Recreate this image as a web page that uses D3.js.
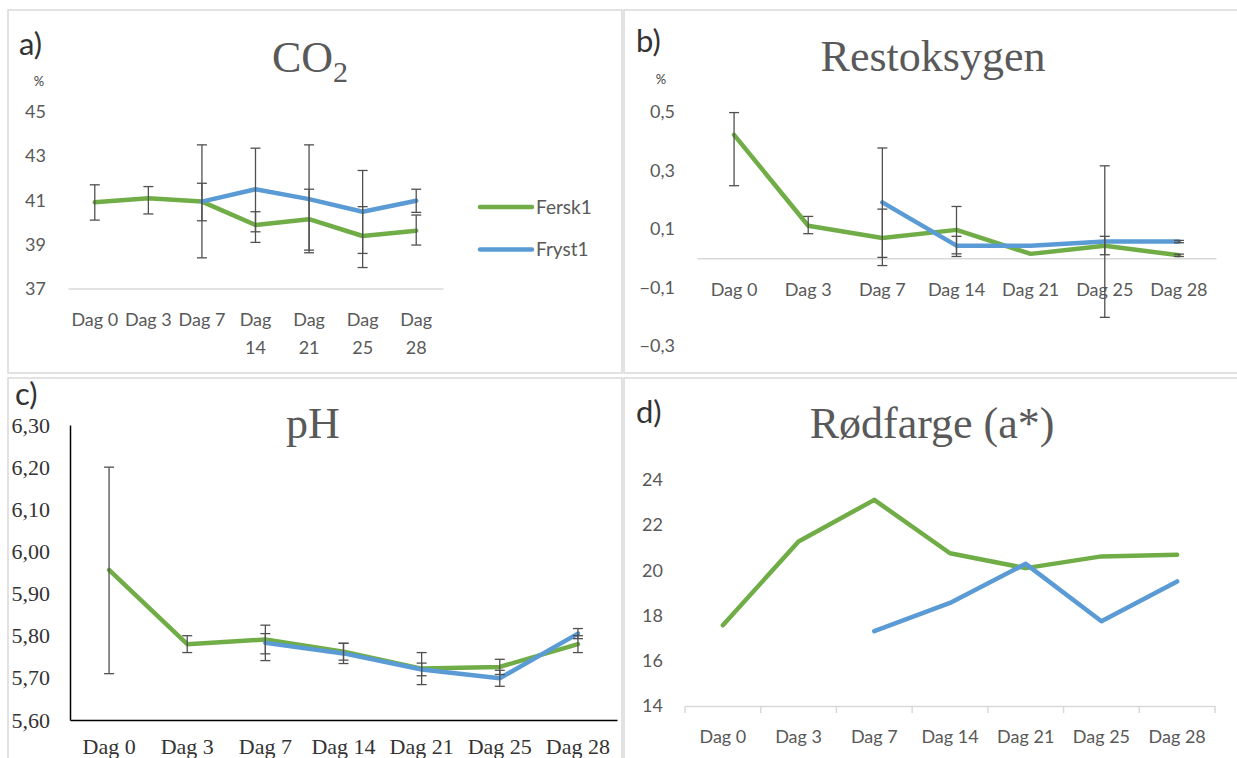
<!DOCTYPE html>
<html>
<head>
<meta charset="utf-8">
<script src="https://cdn.jsdelivr.net/npm/d3@7"></script>
<style>
  body { margin: 0; background: #fff; }
</style>
</head>
<body>
<svg id="chart" width="1237" height="758"></svg>
<script>
// categories
const days = ["Dag 0", "Dag 3", "Dag 7", "Dag 14", "Dag 21", "Dag 25", "Dag 28"];
const seriesNames = ["Fersk1", "Fryst1"];

// a) CO2 (%)
const co2Fersk = [40.91, 41.09, 40.94, 39.88, 40.14, 39.38, 39.62];
const co2Fryst = [null, null, 40.94, 41.50, 41.05, 40.48, 40.98];
const co2FerskErr = [[40.10, 41.70], [40.38, 41.62], [40.07, 41.77], [39.09, 40.48], [38.74, 41.50], [37.95, 40.71], [38.97, 40.33]];
const co2FrystErr = [null, null, [38.39, 43.51], [39.57, 43.36], [38.62, 43.51], [38.59, 42.35], [40.45, 41.50]];
const co2Ticks = [37, 39, 41, 43, 45];

// b) Restoksygen (%)
const o2Fersk = [0.422, 0.111, 0.069, 0.097, 0.015, 0.043, 0.010];
const o2Fryst = [null, null, 0.191, 0.043, 0.043, 0.057, 0.057];
const o2FerskErr = [[0.248, 0.498], [0.084, 0.143], [-0.025, 0.168], [0.015, 0.177], null, [0.012, 0.075], [0.006, 0.014]];
const o2FrystErr = [null, null, [0.003, 0.377], [0.006, 0.075], null, [-0.202, 0.316], [0.053, 0.061]];
const o2Ticks = [-0.3, -0.1, 0.1, 0.3, 0.5];

// c) pH
const phFersk = [5.956, 5.780, 5.791, 5.762, 5.722, 5.726, 5.780];
const phFryst = [null, null, 5.783, 5.758, 5.720, 5.699, 5.805];
const phFerskErr = [[5.71, 6.20], [5.76, 5.80], [5.757, 5.825], [5.742, 5.782], [5.684, 5.76], [5.708, 5.744], [5.76, 5.80]];
const phFrystErr = [null, null, [5.741, 5.805], [5.734, 5.782], [5.705, 5.735], [5.68, 5.718], [5.793, 5.817]];
const phTicks = [5.6, 5.7, 5.8, 5.9, 6.0, 6.1, 6.2, 6.3];

// d) Rødfarge (a*)
const rodFersk = [17.57, 21.28, 23.12, 20.76, 20.10, 20.62, 20.69];
const rodFryst = [null, null, 17.31, 18.56, 20.29, 17.75, 19.51];
const rodTicks = [14, 16, 18, 20, 22, 24];

const green = "#70ad47", blue = "#5b9bd5";
const sans = "Lato, 'Liberation Sans', sans-serif";
const serif = "'Liberation Serif', 'Times New Roman', serif";
const no = d3.formatLocale({ decimal: ",", thousands: " ", grouping: [3], currency: ["", ""] });

const svg = d3.select("#chart");

function drawPanel(p) {
  const g = svg.append("g");

  g.append("rect")
    .attr("x", p.box[0]).attr("y", p.box[1])
    .attr("width", p.box[2]).attr("height", p.box[3])
    .attr("fill", "none").attr("stroke", "#d9d9d9").attr("stroke-width", 1.5);

  g.append("text").attr("x", p.letter[0]).attr("y", p.letter[1])
    .attr("font-family", sans).attr("font-size", 31).attr("fill", "#333")
    .text(p.letterText);

  const title = g.append("text").attr("x", p.title[0]).attr("y", p.title[1])
    .attr("text-anchor", "middle").attr("font-family", serif)
    .attr("font-size", 44).attr("fill", "#595959")
    .text(p.titleText);
  if (p.titleSub) {
    title.append("tspan").attr("font-size", 30).attr("dy", 10).text(p.titleSub);
  }

  if (p.unit) {
    g.append("text").attr("x", p.unit[0]).attr("y", p.unit[1])
      .attr("text-anchor", "middle").attr("font-family", sans)
      .attr("font-size", 13).attr("fill", "#404040").text("%");
  }

  const x = d3.scaleBand().domain(days).range(p.xr).padding(0);
  const cx = d => x(d) + x.bandwidth() / 2;
  const y = d3.scaleLinear().domain(p.yd).range(p.yr);

  // y axis
  const ya = g.append("g")
    .attr("transform", `translate(${p.xr[0]},0)`)
    .call(d3.axisLeft(y).tickValues(p.ticks).tickSize(0).tickPadding(p.yPad).tickFormat(p.fmt));
  ya.attr("font-family", p.serifAxes ? serif : sans)
    .attr("font-size", p.serifAxes ? 22 : 18);
  ya.selectAll("text").attr("fill", p.serifAxes ? "#333" : "#595959");
  if (p.serifAxes) {
    ya.select(".domain").attr("stroke", "#000").attr("stroke-width", 1.5);
  } else {
    ya.select(".domain").remove();
  }

  // x axis
  const xa = g.append("g")
    .attr("transform", `translate(0,${y(p.base)})`)
    .call(d3.axisBottom(x).tickSize(0).tickPadding(0));
  xa.attr("font-family", p.serifAxes ? serif : sans)
    .attr("font-size", p.serifAxes ? 22 : 18);
  xa.select(".domain")
    .attr("stroke", p.serifAxes ? "#000" : "#d9d9d9")
    .attr("stroke-width", p.serifAxes ? 1.5 : 1.5);
  xa.selectAll("text").attr("fill", p.serifAxes ? "#333" : "#595959")
    .attr("y", p.labelDy).attr("dy", "0.35em");

  if (p.wrap) {
    xa.selectAll(".tick text").each(function (d) {
      const t = d3.select(this);
      if (this.getComputedTextLength() > x.bandwidth()) {
        const parts = d.split(" ");
        t.text(null);
        t.append("tspan").attr("x", 0).text(parts[0]);
        t.append("tspan").attr("x", 0).attr("dy", 28).text(parts[1]);
      }
    });
  }

  if (p.boundaryTicks) {
    const edges = days.map(d => x(d)).concat([p.xr[1]]);
    g.selectAll("line.btick").data(edges).join("line")
      .attr("x1", d => d).attr("x2", d => d)
      .attr("y1", y(p.base)).attr("y2", y(p.base) + 7)
      .attr("stroke", "#d9d9d9").attr("stroke-width", 1.5);
  }

  const line = d3.line()
    .defined(d => d[1] != null)
    .x(d => cx(d[0]))
    .y(d => y(d[1]));

  const series = [
    { vals: p.fersk, err: p.ferskErr, color: green },
    { vals: p.fryst, err: p.frystErr, color: blue }
  ];

  series.forEach(s => {
    g.append("path")
      .datum(days.map((d, i) => [d, s.vals[i]]))
      .attr("d", line)
      .attr("fill", "none").attr("stroke", s.color)
      .attr("stroke-width", 4.5)
      .attr("stroke-linejoin", "round").attr("stroke-linecap", "round");
  });

  series.forEach(s => {
    if (!s.err) return;
    const eb = days.map((d, i) => [d, s.err[i]]).filter(e => e[1]);
    const eg = g.selectAll(null).data(eb).join("g");
    eg.append("line")
      .attr("x1", d => cx(d[0])).attr("x2", d => cx(d[0]))
      .attr("y1", d => y(d[1][0])).attr("y2", d => y(d[1][1]));
    eg.append("line")
      .attr("x1", d => cx(d[0]) - 5).attr("x2", d => cx(d[0]) + 5)
      .attr("y1", d => y(d[1][0])).attr("y2", d => y(d[1][0]));
    eg.append("line")
      .attr("x1", d => cx(d[0]) - 5).attr("x2", d => cx(d[0]) + 5)
      .attr("y1", d => y(d[1][1])).attr("y2", d => y(d[1][1]));
    eg.selectAll("line").attr("stroke", "#505050").attr("stroke-width", 1.3);
  });

  if (p.legend) {
    const lg = g.selectAll("g.leg").data(seriesNames).join("g")
      .attr("transform", (d, i) => `translate(480,${207 + i * 42.5})`);
    lg.append("line").attr("x1", 0).attr("x2", 52).attr("y1", 0).attr("y2", 0)
      .attr("stroke", (d, i) => i ? blue : green).attr("stroke-width", 4.5)
      .attr("stroke-linecap", "round");
    lg.append("text").attr("x", 56).attr("dy", "0.35em")
      .attr("font-family", sans).attr("font-size", 19).attr("fill", "#595959")
      .text(d => d);
  }
}

drawPanel({
  box: [8, 10, 614, 363], letter: [19, 55], letterText: "a)",
  title: [310, 72], titleText: "CO", titleSub: "2", unit: [39, 86],
  xr: [68, 443], yd: [37, 45], yr: [288.5, 112], ticks: co2Ticks, yPad: 22,
  fmt: d3.format("d"), base: 37, labelDy: 31, wrap: true, legend: true,
  fersk: co2Fersk, fryst: co2Fryst, ferskErr: co2FerskErr, frystErr: co2FrystErr
});

drawPanel({
  box: [624, 10, 616, 363], letter: [636, 52], letterText: "b)",
  title: [933, 71], titleText: "Restoksygen", unit: [661, 84],
  xr: [697, 1216], yd: [-0.3, 0.5], yr: [346, 112], ticks: o2Ticks, yPad: 22,
  fmt: no.format(".1f"), base: 0, labelDy: 31,
  fersk: o2Fersk, fryst: o2Fryst, ferskErr: o2FerskErr, frystErr: o2FrystErr
});

drawPanel({
  box: [8, 378, 614, 385], letter: [15, 405], letterText: "c)",
  title: [313, 438], titleText: "pH",
  xr: [70, 617], yd: [5.6, 6.3], yr: [720, 425], ticks: phTicks, yPad: 20,
  fmt: no.format(".2f"), base: 5.6, labelDy: 26, serifAxes: true,
  fersk: phFersk, fryst: phFryst, ferskErr: phFerskErr, frystErr: phFrystErr
});

drawPanel({
  box: [624, 378, 616, 385], letter: [636, 423], letterText: "d)",
  title: [932, 438], titleText: "Rødfarge (a*)",
  xr: [685, 1215], yd: [14, 24], yr: [706, 480], ticks: rodTicks, yPad: 22,
  fmt: d3.format("d"), base: 14, labelDy: 31, boundaryTicks: true,
  fersk: rodFersk, fryst: rodFryst
});
</script>
</body>
</html>
